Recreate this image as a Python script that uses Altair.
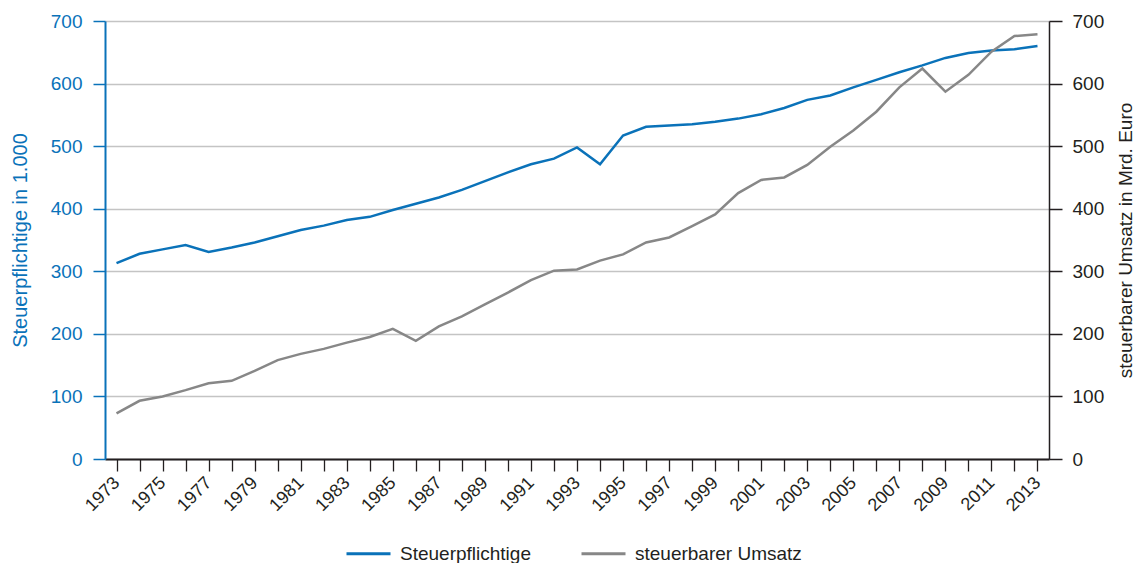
import altair as alt
import pandas as pd

years = list(range(1973, 2014))
steuerpflichtige = [313, 328, 335, 342, 331, 338, 346, 356, 366, 373, 382, 387, 398, 408,
                    418, 430, 444, 458, 471, 480, 498, 471, 517, 531, 533, 535, 539, 544,
                    551, 561, 574, 581, 594, 606, 618, 629, 641, 649, 653, 655, 660]
umsatz = [73, 93, 100, 110, 121, 125, 141, 158, 168, 176, 186, 195, 208, 189,
          212, 228, 247, 266, 286, 301, 303, 317, 327, 346, 354, 372, 391, 425,
          446, 450, 470, 499, 525, 555, 594, 624, 587, 614, 651, 676, 679]
series_names = ["Steuerpflichtige", "steuerbarer Umsatz"]
y_ticks = [0, 100, 200, 300, 400, 500, 600, 700]

BLUE = "#0a72b9"
GRAY = "#878787"
DARK = "#231f20"
FONT = "Liberation Sans"

df = pd.DataFrame({"Jahr": years, "Steuerpflichtige": steuerpflichtige, "Umsatz": umsatz})

x_enc = alt.X(
    "Jahr:O",
    scale=alt.Scale(type="point", padding=0.5),
    axis=alt.Axis(
        title=None,
        labelAngle=315,
        labelAlign="right",
        labelBaseline="middle",
        labelExpr="datum.value % 2 == 1 ? datum.label : ''",
        labelFontSize=18,
        labelColor=DARK,
        labelPadding=9,
        tickSize=12,
        tickColor=DARK,
        tickWidth=1.3,
        domainColor=DARK,
        domainWidth=2,
        grid=False,
        labelOverlap=False,
    ),
)

color_scale = alt.Scale(domain=series_names, range=[BLUE, GRAY])

blue = alt.Chart(df).transform_calculate(Reihe="'Steuerpflichtige'").mark_line(strokeWidth=2.5).encode(
    x=x_enc,
    y=alt.Y(
        "Steuerpflichtige:Q",
        scale=alt.Scale(domain=[0, 700]),
        axis=alt.Axis(
            title="Steuerpflichtige in 1.000",
            titleColor=BLUE,
            titleFontSize=20,
            titleFontWeight="normal",
            titlePadding=20,
            values=y_ticks,
            labelColor=BLUE,
            labelFontSize=19,
            labelPadding=11,
            tickColor=BLUE,
            tickSize=12,
            tickWidth=1.5,
            domainColor=BLUE,
            domainWidth=2,
            grid=True,
            gridColor="#c4c4c4",
            gridWidth=1.5,
            orient="left",
        ),
    ),
    color=alt.Color("Reihe:N", scale=color_scale, legend=alt.Legend(title=None)),
)

gray = alt.Chart(df).transform_calculate(Reihe="'steuerbarer Umsatz'").mark_line(strokeWidth=2.5).encode(
    x=x_enc,
    y=alt.Y(
        "Umsatz:Q",
        scale=alt.Scale(domain=[0, 700]),
        axis=alt.Axis(
            title="steuerbarer Umsatz in Mrd. Euro",
            titleColor=DARK,
            titleFontSize=19,
            titleFontWeight="normal",
            titleAngle=270,
            titlePadding=32,
            values=y_ticks,
            labelColor=DARK,
            labelFontSize=19,
            labelPadding=10,
            tickColor=DARK,
            tickSize=13,
            tickWidth=1.5,
            domainColor=DARK,
            domainWidth=1.5,
            grid=False,
            orient="right",
        ),
    ),
    color=alt.Color("Reihe:N", scale=color_scale, legend=alt.Legend(title=None)),
)

chart = (
    alt.layer(blue, gray)
    .resolve_scale(y="independent")
    .properties(
        width=944,
        height=438,
        autosize=alt.AutoSizeParams(type="none"),
        padding={"left": 97, "top": 13, "right": 86, "bottom": 104},
    )
    .configure_view(stroke=DARK, strokeWidth=1.5)
    .configure(font=FONT)
    .configure_legend(
        orient="none",
        legendX=240,
        legendY=509,
        direction="horizontal",
        symbolType="stroke",
        symbolSize=1936,
        symbolStrokeWidth=3,
        labelFontSize=19,
        labelColor=DARK,
        labelOffset=8,
        labelLimit=400,
        columnPadding=44,
        padding=0,
    )
)

chart.save("out.html", embed_options={"renderer": "svg", "actions": False})
